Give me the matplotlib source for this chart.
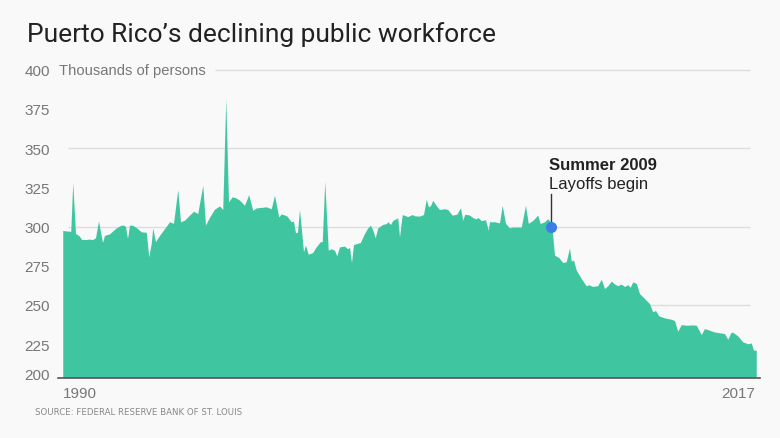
import matplotlib
matplotlib.use("Agg")
import matplotlib.pyplot as plt

# 数据：年份与公共部门就业人数（千人）
years = [1990.01, 1990.08, 1990.28, 1990.33, 1990.41, 1990.52, 1990.65, 1990.77, 1990.95,
         1991.08, 1991.19, 1991.32, 1991.44, 1991.60, 1991.68, 1991.88, 1992.15, 1992.35,
         1992.44, 1992.52, 1992.60, 1992.68, 1992.79, 1992.97, 1993.15, 1993.35, 1993.45,
         1993.55, 1993.61, 1993.72, 1993.88, 1994.08, 1994.28, 1994.44, 1994.61, 1994.72,
         1994.88, 1995.08, 1995.24, 1995.41, 1995.61, 1995.72, 1995.88, 1996.08, 1996.28,
         1996.41, 1996.53, 1996.64, 1996.79, 1996.92, 1997.08, 1997.28, 1997.45, 1997.61,
         1997.75, 1998.15, 1998.35, 1998.48, 1998.65, 1998.75, 1998.97, 1999.15, 1999.24,
         1999.32, 1999.40, 1999.48, 1999.64, 1999.72, 1999.83, 2000.01, 2000.12, 2000.31,
         2000.39, 2000.49, 2000.63, 2000.75, 2000.88, 2000.97, 2001.08, 2001.28, 2001.41,
         2001.48, 2001.56, 2001.64, 2001.81, 2001.91, 2002.08, 2002.21, 2002.32, 2002.41,
         2002.51, 2002.61, 2002.81, 2002.95, 2003.01, 2003.12, 2003.21, 2003.41, 2003.48,
         2003.59, 2003.81, 2003.99, 2004.08, 2004.28, 2004.44, 2004.55, 2004.64, 2004.72,
         2004.81, 2004.95, 2005.08, 2005.28, 2005.41, 2005.59, 2005.77, 2005.92, 2006.01,
         2006.09, 2006.28, 2006.41, 2006.55, 2006.61, 2006.75, 2006.92, 2007.03, 2007.08,
         2007.28, 2007.48, 2007.59, 2007.72, 2007.88, 2008.01, 2008.35, 2008.52, 2008.63,
         2008.81, 2009.01, 2009.11, 2009.28, 2009.41, 2009.51, 2009.59, 2009.68, 2009.85,
         2010.01, 2010.15, 2010.28, 2010.35, 2010.44, 2010.55, 2010.75, 2010.95, 2011.05,
         2011.21, 2011.41, 2011.55, 2011.68, 2011.81, 2011.95, 2012.08, 2012.21, 2012.35,
         2012.48, 2012.61, 2012.71, 2012.81, 2012.95, 2013.08, 2013.28, 2013.48, 2013.61,
         2013.72, 2013.85, 2014.08, 2014.35, 2014.48, 2014.61, 2014.75, 2014.95, 2015.21,
         2015.35, 2015.55, 2015.68, 2015.88, 2016.08, 2016.28, 2016.48, 2016.61, 2016.75,
         2016.84, 2017.01, 2017.21, 2017.41, 2017.55, 2017.64, 2017.75]
workers = [297.3, 297.0, 296.7, 296.5, 327.7, 295.2, 294.0, 291.4, 291.4,
           291.7, 291.3, 292.5, 303.3, 289.5, 294.0, 295.0, 298.8, 300.5,
           300.6, 299.7, 292.0, 300.5, 300.6, 298.8, 296.3, 296.0, 280.4,
           288.9, 298.8, 290.0, 294.0, 298.3, 302.7, 301.7, 323.2, 302.7,
           303.7, 306.9, 309.4, 308.0, 326.0, 300.6, 305.5, 310.7, 312.8,
           310.5, 381.2, 315.4, 318.6, 318.0, 316.5, 313.2, 320.0, 310.0,
           311.5, 312.2, 311.0, 319.6, 305.8, 307.7, 306.5, 302.7, 303.0,
           295.7, 296.0, 310.7, 283.6, 287.8, 282.0, 283.1, 286.1, 290.0,
           290.0, 328.5, 284.6, 285.5, 284.6, 281.0, 286.7, 287.2, 285.5,
           286.5, 276.7, 288.2, 289.0, 289.4, 295.2, 298.8, 300.5, 297.4,
           292.5, 298.8, 301.0, 301.5, 302.7, 301.0, 303.5, 305.2, 293.1,
           307.3, 306.0, 307.3, 306.5, 306.3, 307.3, 317.0, 312.2, 313.0,
           316.4, 313.0, 310.5, 311.0, 310.5, 306.9, 307.5, 311.6, 303.7,
           307.5, 307.0, 305.4, 304.5, 305.5, 303.5, 304.0, 297.3, 302.7,
           302.7, 302.0, 313.2, 301.7, 298.8, 299.3, 299.3, 313.2, 301.7,
           303.5, 306.9, 301.6, 302.7, 304.7, 302.7, 297.3, 281.4, 280.0,
           276.7, 277.3, 286.1, 277.7, 278.3, 271.9, 266.6, 261.9, 262.6,
           261.5, 262.0, 266.1, 260.2, 261.9, 264.9, 263.1, 262.0, 263.0,
           261.5, 262.6, 261.0, 264.4, 263.5, 257.0, 253.8, 250.6, 245.3,
           246.2, 242.8, 241.5, 240.6, 239.8, 233.0, 237.2, 236.8, 237.0,
           236.8, 230.9, 234.7, 233.6, 232.5, 232.0, 231.5, 227.9, 232.5,
           232.0, 230.0, 226.2, 225.0, 225.5, 220.9, 220.9]

y_ticks = [225, 250, 275, 300, 325, 350, 375, 400]
grid_levels = [250, 300, 350]
layoff_year, layoff_value = 2009.52, 300

fill_color = '#40c5a1'
bg = '#f9f9f9'
label_font = 'Liberation Sans'

fig = plt.figure(figsize=(7.8, 4.39), dpi=100, facecolor=bg)
ax = fig.add_axes([58 / 780, 60 / 439, 702 / 780, 311 / 439], facecolor=bg)

ax.set_xlim(1989.8, 2017.88)
ax.set_ylim(203.5, 401.6)

# 网格线（在面积图下方）
ax.hlines(grid_levels, 1990.2, 2017.48, color='#dddddd', linewidth=1, zorder=1)
ax.hlines(400, 1996.08, 2017.48, color='#dddddd', linewidth=1, zorder=1)

# 面积图
ax.fill_between(years, 0, workers, color=fill_color, linewidth=0, zorder=2)

# 坐标轴样式
for side in ['top', 'right', 'left']:
    ax.spines[side].set_visible(False)
ax.spines['bottom'].set_color('#555555')
ax.spines['bottom'].set_linewidth(1.2)
ax.spines['bottom'].set_zorder(3)

ax.set_yticks(y_ticks)
ax.set_yticklabels([str(t) for t in y_ticks])
ax.tick_params(axis='y', length=0, pad=6, labelsize=11, labelcolor='#777777')
for lab in ax.get_yticklabels():
    lab.set_fontfamily(label_font)
ax.annotate('200', xy=(0, 203.5), xycoords=('axes fraction', 'data'),
            xytext=(-6, 2), textcoords='offset points', ha='right', va='center',
            fontsize=11, color='#777777', family=label_font)
ax.set_xticks([])

ax.annotate('Thousands of persons', xy=(0, 400), xycoords=('axes fraction', 'data'),
            xytext=(1, 0), textcoords='offset points', ha='left', va='center',
            fontsize=10.6, color='#777777', family=label_font)

# x 轴端点标签
ax.annotate('1990', xy=(1990, 203.5), xycoords='data', xytext=(0, -11),
            textcoords='offset points', ha='left', va='center',
            fontsize=11, color='#777777', family=label_font)
ax.annotate('2017', xy=(2017.75, 203.5), xycoords='data', xytext=(-1, -11),
            textcoords='offset points', ha='right', va='center',
            fontsize=11, color='#777777', family=label_font)

# 2009 年夏季注释
ax.plot([layoff_year, layoff_year], [layoff_value, 320.5], color='#333333',
        linewidth=1, zorder=4)
ax.plot(layoff_year, layoff_value, 'o', color='#3b7fe6', markersize=8,
        markeredgewidth=0, zorder=5)
ax.text(layoff_year - 0.08, 339.5, 'Summer 2009', ha='left', va='center',
        fontsize=12, fontweight='bold', color='#222222', family=label_font)
ax.text(layoff_year - 0.08, 327.5, 'Layoffs begin', ha='left', va='center',
        fontsize=12, color='#222222', family=label_font)

# 标题与来源
fig.text(27 / 780, 1 - 35 / 439, 'Puerto Rico\u2019s declining public workforce',
         ha='left', va='center', fontsize=19, color='#222222', family='Roboto')
fig.text(35 / 780, 1 - 413 / 439, 'SOURCE: FEDERAL RESERVE BANK OF ST. LOUIS',
         ha='left', va='center', fontsize=6.2, color='#888888', family='DejaVu Sans')

fig.savefig('out.png', dpi=100, facecolor=bg)
